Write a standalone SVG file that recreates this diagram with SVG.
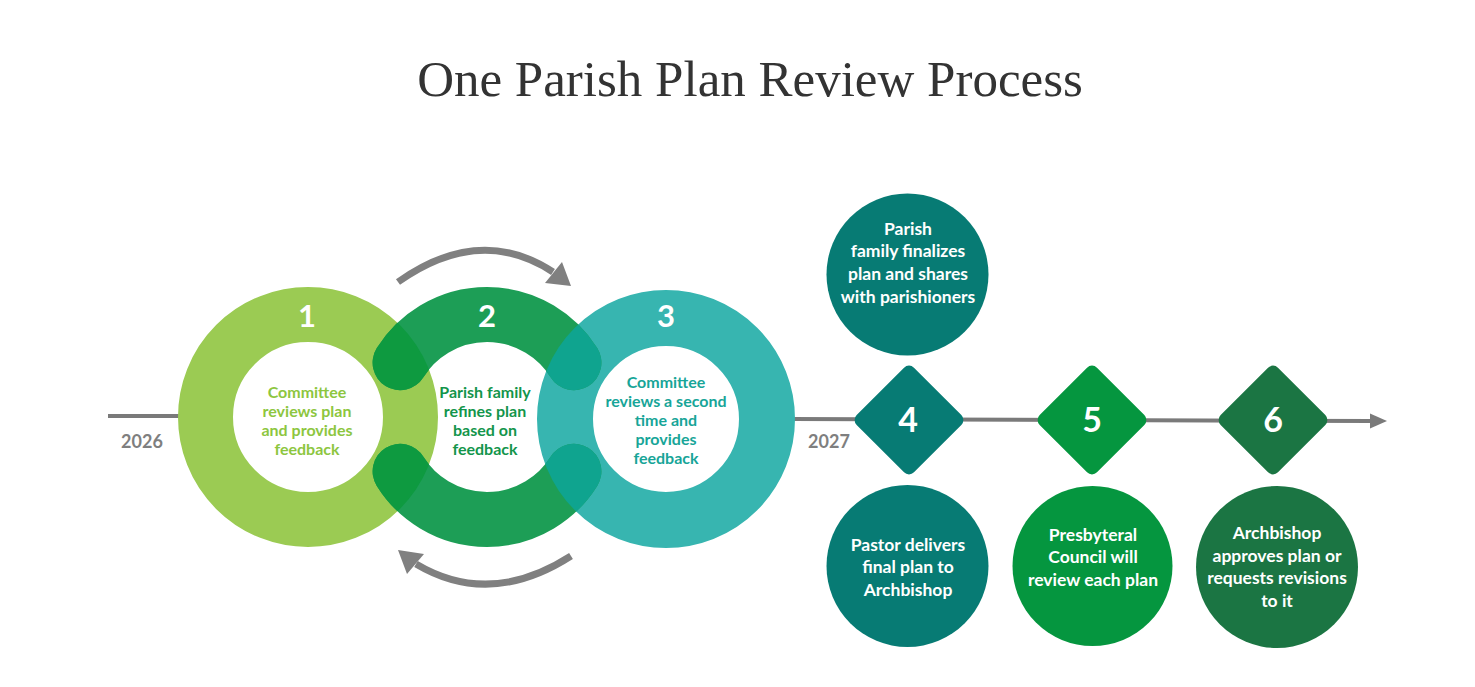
<svg xmlns="http://www.w3.org/2000/svg" width="1475" height="687" viewBox="0 0 1475 687">
<style>
.title{font-family:"Liberation Serif",serif;font-size:51px;fill:#333333}
.num{font-family:Lato,"Liberation Sans",sans-serif;font-weight:bold;fill:#ffffff;text-anchor:middle}
.rt{font-family:Lato,"Liberation Sans",sans-serif;font-weight:bold;font-size:16px;text-anchor:middle}
.ct{font-family:Lato,"Liberation Sans",sans-serif;font-weight:bold;font-size:17.5px;fill:#ffffff;text-anchor:middle}
.yr{font-family:Lato,"Liberation Sans",sans-serif;font-weight:bold;font-size:18px;fill:#7f7f7f;text-anchor:middle}
.tl{stroke:#7a7a7a;stroke-width:4;fill:none}
.cyc{stroke:#808080;stroke-width:7;fill:none}
.arcs{fill:none;stroke-width:55;stroke-linecap:round}
</style>
<defs>
<clipPath id="c1"><circle cx="308" cy="417" r="130"/></clipPath>
<clipPath id="c3"><circle cx="666" cy="419" r="129"/></clipPath>
<path id="arc2" d="M 400.1 362.7 A 102.5 102.5 0 0 1 573.9 362.7 M 400.1 471.3 A 102.5 102.5 0 0 0 573.9 471.3"/>
</defs>
<rect width="1475" height="687" fill="#ffffff"/>
<text class="title" x="750" y="96" text-anchor="middle">One Parish Plan Review Process</text>

<g id="connectors">
<line class="tl" x1="108" y1="416" x2="182" y2="416"/>
<line class="tl" x1="792" y1="419" x2="1372" y2="421"/>
<polygon points="1387,421 1370,413.5 1370,428.5" fill="#7a7a7a"/>
<path class="cyc" d="M 398 282 Q 480 224 553 272"/>
<polygon points="571,286 545,283 562,262" fill="#808080"/>
<path class="cyc" d="M 571 556 Q 490 608 416 564"/>
<polygon points="398,550 407,574 424,554" fill="#808080"/>
</g>

<g id="ring1">
<circle cx="308" cy="417" r="102.5" fill="none" stroke="#9bcb53" stroke-width="55"/>
<text class="num" x="307" y="327" font-size="31">1</text>
<text class="rt" fill="#8dc63f"><tspan x="307" y="398">Committee</tspan><tspan x="307" y="417">reviews plan</tspan><tspan x="307" y="436">and provides</tspan><tspan x="307" y="455">feedback</tspan></text>
</g>
<g id="ring3">
<circle cx="666" cy="419" r="101" fill="none" stroke="#37b5b0" stroke-width="56"/>
<text class="num" x="666" y="327" font-size="31">3</text>
<text class="rt" fill="#17a598"><tspan x="666" y="388">Committee</tspan><tspan x="666" y="407">reviews a second</tspan><tspan x="666" y="426">time and</tspan><tspan x="666" y="445">provides</tspan><tspan x="666" y="464">feedback</tspan></text>
</g>
<g id="ring2">
<use href="#arc2" class="arcs" stroke="#1d9e56"/>
<g clip-path="url(#c1)"><use href="#arc2" class="arcs" stroke="#0e9a40"/></g>
<g clip-path="url(#c3)"><use href="#arc2" class="arcs" stroke="#0fa48f"/></g>
<text class="num" x="487" y="327" font-size="31">2</text>
<text class="rt" fill="#13954b"><tspan x="485" y="398">Parish family</tspan><tspan x="485" y="417">refines plan</tspan><tspan x="485" y="436">based on</tspan><tspan x="485" y="455">feedback</tspan></text>
</g>

<g id="years">
<text class="yr" x="142" y="448">2026</text>
<text class="yr" x="829" y="448">2027</text>
</g>

<g id="step4top">
<circle cx="907.5" cy="274.5" r="81" fill="#077b74"/>
<text class="ct"><tspan x="908" y="235">Parish</tspan><tspan x="908" y="257">family finalizes</tspan><tspan x="908" y="280">plan and shares</tspan><tspan x="908" y="303">with parishioners</tspan></text>
</g>
<g id="diamond4">
<rect x="868.5" y="379.5" width="81" height="81" rx="7" transform="rotate(45 909 420)" fill="#077b74"/>
<text class="num" x="908" y="432" font-size="34">4</text>
</g>
<g id="diamond5">
<rect x="1051.5" y="379.5" width="81" height="81" rx="7" transform="rotate(45 1092 420)" fill="#05963f"/>
<text class="num" x="1092" y="432" font-size="34">5</text>
</g>
<g id="diamond6">
<rect x="1232.5" y="379.5" width="81" height="81" rx="7" transform="rotate(45 1273 420)" fill="#1b7543"/>
<text class="num" x="1273" y="432" font-size="34">6</text>
</g>
<g id="step4">
<circle cx="907.5" cy="566" r="81" fill="#077b74"/>
<text class="ct"><tspan x="908" y="551">Pastor delivers</tspan><tspan x="908" y="573">final plan to</tspan><tspan x="908" y="596">Archbishop</tspan></text>
</g>
<g id="step5">
<circle cx="1092.5" cy="566" r="80" fill="#05963f"/>
<text class="ct"><tspan x="1093" y="541">Presbyteral</tspan><tspan x="1093" y="563">Council will</tspan><tspan x="1093" y="586">review each plan</tspan></text>
</g>
<g id="step6">
<circle cx="1277" cy="567" r="81" fill="#1b7543"/>
<text class="ct"><tspan x="1277" y="539">Archbishop</tspan><tspan x="1277" y="562">approves plan or</tspan><tspan x="1277" y="584">requests revisions</tspan><tspan x="1277" y="607">to it</tspan></text>
</g>
</svg>
